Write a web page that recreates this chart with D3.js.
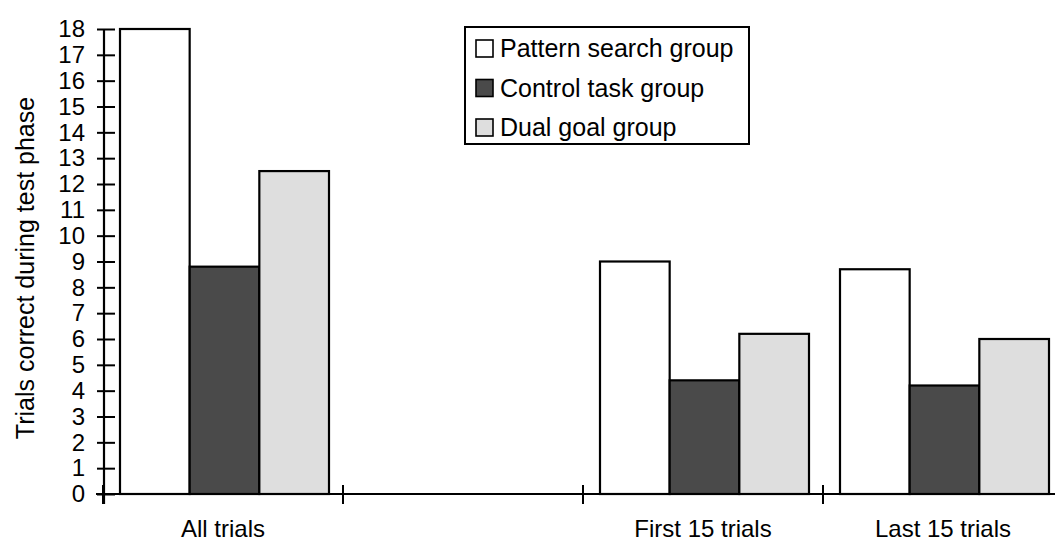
<!DOCTYPE html>
<html>
<head>
<meta charset="utf-8">
<script src="https://cdn.jsdelivr.net/npm/d3@7"></script>
<style>
  body { margin: 0; background: #fff; }
  svg { display: block; font-family: "Liberation Sans", Arial, sans-serif; }
</style>
</head>
<body>
<svg id="chart" width="1055" height="541"></svg>
<script>
// categories (the second slot is an empty gap in the original figure)
var categories = ['All trials', 'gap', 'First 15 trials', 'Last 15 trials'];
var catLabels = ['All trials', '', 'First 15 trials', 'Last 15 trials'];
var groups = ['Pattern search group', 'Control task group', 'Dual goal group'];

var patternSearch = [18, null, 9.0, 8.7];
var controlTask = [8.8, null, 4.4, 4.2];
var dualGoal = [12.5, null, 6.2, 6.0];

var yTicks = d3.range(0, 19);
var colors = ['#ffffff', '#4a4a4a', '#dedede'];

var svg = d3.select('#chart');

var x0 = d3.scaleBand().domain(categories).range([103, 1063]);
var x1 = d3.scaleBand().domain(groups).range([17, 226]);
var y = d3.scaleLinear().domain([0, 18]).range([494, 29]);

var rows = [];
categories.forEach(function (c, i) {
  if (c == 'gap') return;
  rows.push({ cat: c, group: groups[0], v: patternSearch[i] });
  rows.push({ cat: c, group: groups[1], v: controlTask[i] });
  rows.push({ cat: c, group: groups[2], v: dualGoal[i] });
});

// bars
svg.append('g').selectAll('rect')
  .data(rows)
  .join('rect')
  .attr('x', function (d) { return x0(d.cat) + x1(d.group); })
  .attr('y', function (d) { return y(d.v); })
  .attr('width', x1.bandwidth())
  .attr('height', function (d) { return y(0) - y(d.v); })
  .style('fill', function (d) { return colors[groups.indexOf(d.group)]; })
  .style('stroke', '#000')
  .style('stroke-width', 2.2);

// y axis with ticks crossing the line
var yAxis = svg.append('g')
  .attr('transform', 'translate(104,0)')
  .call(d3.axisLeft(y).tickValues(yTicks).tickSizeOuter(0).tickSize(7).tickPadding(12));
yAxis.select('.domain').attr('stroke-width', 2.2).attr('d', 'M0,' + y(18) + 'V' + (y(0) + 10));
yAxis.selectAll('.tick line').attr('x1', -7).attr('x2', 11).attr('stroke-width', 2);
yAxis.selectAll('.tick text')
  .style('font-size', '24px')
  .style('font-family', '"Liberation Sans", Arial, sans-serif')
  .style('fill', '#000');

// x axis: baseline, ticks on band edges, labels in band centres
var xg = svg.append('g');
xg.append('line')
  .attr('x1', 96).attr('x2', 1055)
  .attr('y1', y(0)).attr('y2', y(0))
  .style('stroke', '#000').style('stroke-width', 2.2);
xg.selectAll('.xtick')
  .data(categories)
  .join('line')
  .attr('class', 'xtick')
  .attr('x1', function (d) { return x0(d); })
  .attr('x2', function (d) { return x0(d); })
  .attr('y1', y(0) - 9).attr('y2', y(0) + 10)
  .style('stroke', '#000').style('stroke-width', 2);
xg.selectAll('.xlab')
  .data(categories)
  .join('text')
  .attr('class', 'xlab')
  .attr('x', function (d) { return x0(d) + x0.bandwidth() / 2; })
  .attr('y', 537)
  .attr('text-anchor', 'middle')
  .style('font-size', '24px')
  .text(function (d, i) { return catLabels[i]; });

// y axis title
svg.append('text')
  .attr('transform', 'translate(34,268) rotate(-90)')
  .attr('text-anchor', 'middle')
  .style('font-size', '25px')
  .text('Trials correct during test phase');

// legend
var lg = svg.append('g');
lg.append('rect')
  .attr('x', 465).attr('y', 27).attr('width', 284).attr('height', 117)
  .style('fill', '#fff').style('stroke', '#000').style('stroke-width', 2);
var items = lg.selectAll('.item')
  .data(groups)
  .join('g')
  .attr('class', 'item')
  .attr('transform', function (d, i) { return 'translate(476,' + (48 + i * 39.5) + ')'; });
items.append('rect')
  .attr('x', 0).attr('y', -8).attr('width', 17).attr('height', 17)
  .style('fill', function (d, i) { return colors[i]; })
  .style('stroke', '#000').style('stroke-width', 1.6);
items.append('text')
  .attr('x', 24).attr('y', 9)
  .style('font-size', '25px')
  .text(function (d) { return d; });
</script>
</body>
</html>
